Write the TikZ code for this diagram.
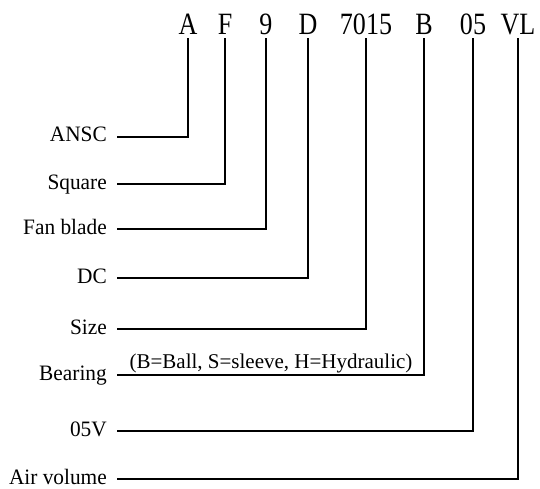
\documentclass[tikz,border=0pt]{standalone}
\usepackage{fontspec}
\setmainfont{Liberation Serif}
\newfontfamily\condfont[FakeStretch=0.84]{Liberation Serif}
\newfontfamily\labfont[FakeStretch=0.97]{Liberation Serif}
\begin{document}
\begin{tikzpicture}[x=1pt,y=-1pt,
  code/.style={anchor=base, font=\condfont\fontsize{31}{32}\selectfont, text depth=0pt, inner ysep=3pt, inner xsep=0pt},
  lab/.style={anchor=east, font=\labfont\fontsize{22}{24}\selectfont, text height=10pt, text depth=0pt, inner xsep=10pt, inner ysep=0pt},
  note/.style={anchor=base, font=\fontsize{21}{22}\selectfont, inner sep=0pt},
  conn/.style={draw=black, line width=2.2pt}]
\useasboundingbox (0,0) rectangle (540,489);
% code letters
\node[code] (cA) at (188,35) {A};
\node[code] (cF) at (225,35) {F};
\node[code] (c9) at (266,35) {9};
\node[code] (cD) at (308,35) {D};
\node[code] (cS) at (366,35) {7015};
\node[code] (cB) at (424,35) {B};
\node[code] (c05) at (473,35) {05};
\node[code] (cVL) at (518,35) {VL};
% labels
\node[lab] (lA) at (117,137) {ANSC};
\node[lab] (lF) at (117,184) {Square};
\node[lab] (l9) at (117,229) {Fan blade};
\node[lab] (lD) at (117,278) {DC};
\node[lab] (lS) at (117,329) {Size};
\node[lab] (lB) at (117,375) {Bearing};
\node[lab] (l05) at (117,431) {05V};
\node[lab] (lVL) at (117,479) {Air volume};
\node[note] (nB) at (271,368) {(B=Ball, S=sleeve, H=Hydraulic)};
% connectors
\draw[conn] (lA.east) -| (cA.south);
\draw[conn] (lF.east) -| (cF.south);
\draw[conn] (l9.east) -| (c9.south);
\draw[conn] (lD.east) -| (cD.south);
\draw[conn] (lS.east) -| (cS.south);
\draw[conn] (lB.east) -| (cB.south);
\draw[conn] (l05.east) -| (c05.south);
\draw[conn] (lVL.east) -| (cVL.south);
\end{tikzpicture}
\end{document}
